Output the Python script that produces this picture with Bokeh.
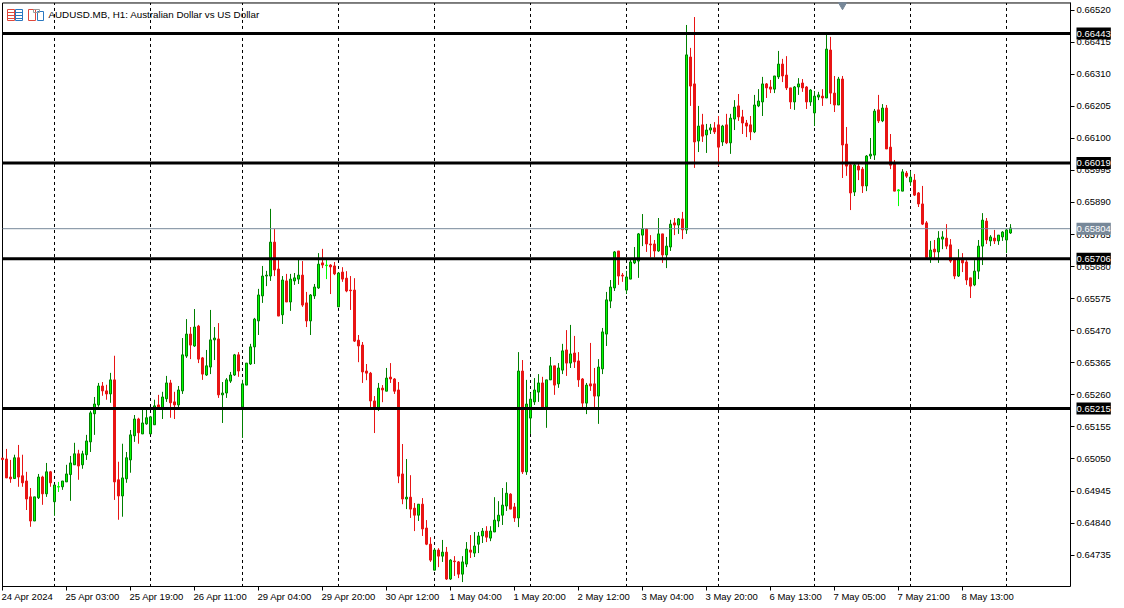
from bokeh.plotting import figure
from bokeh.core.properties import value
from bokeh.models import (ColumnDataSource, FixedTicker, Label, LabelSet, BoxAnnotation,
                          LinearAxis, NumeralTickFormatter, Range1d)
from bokeh.embed import file_html
from bokeh.resources import INLINE

# Prices are in units of 0.00001
high = [
65053,65083,65047,65064,65096,65064,65008,64955,64926,65001,
64995,65037,65011,64965,64975,64978,65031,65060,65103,65080,
65077,65129,65208,65253,65299,65302,65293,65332,65388,65041,
65100,65073,65145,65194,65185,65214,65214,65191,65244,65260,
65270,65322,65309,65270,65289,65446,65508,65482,65541,65489,
65384,65407,65538,65482,65495,65302,65315,65335,65394,65400,
65309,65364,65427,65512,65607,65682,65666,65869,65803,65702,
65649,65656,65656,65659,65702,65698,65597,65590,65623,65724,
65738,65702,65688,65695,65662,65678,65665,65649,65642,65456,
65433,65361,65335,65256,65299,65292,65348,65364,65315,65302,
65099,65050,64997,64906,64902,64922,64850,64794,64758,64758,
64785,64762,64722,64732,64716,64732,64778,64801,64811,64811,
64824,64830,64830,64925,64912,64955,64974,64938,64906,65400,
65374,65309,65266,65315,65328,65319,65309,65384,65355,65364,
65427,65472,65489,65453,65400,65315,65299,65430,65348,65377,
65479,65597,65636,65731,65731,65659,65666,65702,65744,65790,
65852,65806,65783,65767,65839,65787,65777,65833,65839,65839,
65859,66471,66396,66497,66206,66180,66147,66147,66153,66173,
66144,66180,66180,66225,66245,66193,66160,66173,66242,66261,
66301,66281,66291,66304,66386,66360,66369,66265,66271,66297,
66294,66271,66261,66255,66252,66261,66441,66432,66304,66301,
66304,66137,66016,66016,66016,66006,66045,66101,66196,66242,
66212,66209,66114,66029,65934,65999,65993,65993,65983,65924,
65944,65829,65764,65767,65796,65796,65819,65770,65707,65737,
65724,65701,65643,65701,65767,65855,65839,65783,65800,65783,
65796,65803,65819]

low = [
65048,64988,64972,64985,64959,64959,64883,64828,64847,64919,
64900,64926,64959,64864,64942,64949,64975,64913,65031,64982,
65018,65047,65073,65129,65221,65257,65244,65234,64916,64851,
64861,64972,65005,65106,65100,65132,65162,65132,65162,65211,
65181,65237,65185,65181,65211,65263,65381,65377,65417,65364,
65309,65322,65328,65374,65250,65168,65250,65299,65322,65319,
65119,65292,65358,65361,65456,65561,65616,65633,65649,65518,
65492,65564,65535,65620,65623,65548,65482,65456,65574,65607,
65675,65639,65590,65652,65548,65630,65596,65538,65433,65367,
65299,65308,65220,65135,65207,65236,65272,65299,65263,64971,
64902,64886,64857,64814,64847,64798,64768,64713,64686,64696,
64713,64654,64654,64667,64660,64647,64696,64726,64729,64742,
64775,64778,64781,64811,64827,64834,64880,64886,64844,64827,
65001,64998,65132,65227,65237,65216,65152,65309,65260,65283,
65328,65322,65348,65348,65286,65216,65197,65273,65216,65165,
65328,65420,65544,65600,65620,65630,65590,65639,65688,65643,
65747,65728,65710,65710,65728,65692,65675,65731,65783,65787,
65770,65787,66206,66003,66055,66088,66052,66114,66114,66009,
66075,66081,66049,66127,66157,66114,66104,66094,66117,66202,
66173,66232,66248,66248,66294,66284,66258,66196,66193,66242,
66252,66196,66206,66140,66225,66206,66232,66212,66186,66209,
65970,65977,65865,65911,65963,65921,65927,66032,66029,66150,
66153,66065,65999,65927,65878,65927,65970,65944,65911,65875,
65816,65707,65692,65707,65692,65737,65737,65692,65639,65646,
65662,65620,65577,65616,65639,65685,65754,65747,65754,65751,
65764,65724,65787]

body_top = [
65053,65050,64991,65054,65054,64995,64978,64926,64926,64991,
64991,65008,65008,64965,64960,64978,65001,65037,65067,65067,
65067,65109,65201,65230,65289,65289,65273,65309,65309,64982,
64988,65054,65129,65181,65181,65168,65185,65188,65224,65227,
65253,65299,65299,65237,65276,65391,65459,65459,65482,65485,
65381,65355,65440,65446,65443,65266,65309,65325,65391,65391,
65296,65364,65417,65508,65587,65649,65652,65760,65760,65672,
65636,65633,65639,65643,65652,65652,65561,65587,65613,65688,
65692,65685,65685,65682,65659,65662,65642,65603,65603,65439,
65423,65338,65331,65240,65282,65282,65315,65318,65312,65276,
65001,64925,64925,64889,64902,64902,64824,64771,64752,64752,
64745,64745,64719,64716,64713,64713,64755,64752,64765,64798,
64814,64814,64814,64850,64866,64899,64938,64935,64893,65338,
65338,65230,65246,65276,65299,65299,65309,65355,65355,65348,
65404,65407,65394,65397,65371,65312,65292,65296,65296,65351,
65466,65571,65613,65728,65731,65652,65646,65695,65702,65787,
65803,65803,65754,65754,65787,65787,65747,65819,65823,65836,
65836,66373,66366,66278,66140,66144,66127,66134,66134,66144,
66140,66144,66166,66202,66206,66170,66150,66144,66209,66222,
66278,66278,66268,66304,66343,66343,66307,66265,66268,66278,
66281,66268,66258,66238,66242,66238,66392,66389,66248,66294,
66294,66081,66013,66013,66009,65999,66042,66048,66189,66193,
66199,66199,66071,66016,65931,65990,65986,65973,65963,65921,
65885,65823,65734,65737,65773,65777,65773,65751,65705,65705,
65701,65695,65643,65665,65747,65832,65829,65777,65773,65783,
65793,65800,65806]

body_bottom = [
65048,64988,64985,64986,64991,64972,64919,64847,64847,64923,
64936,64936,64972,64910,64958,64959,64975,64999,65031,65027,
65031,65064,65106,65198,65227,65273,65263,65263,64975,64929,
64929,64985,65047,65126,65136,65132,65165,65132,65162,65216,
65216,65247,65234,65227,65227,65273,65387,65423,65420,65377,
65328,65325,65351,65440,65260,65260,65266,65305,65325,65338,
65220,65292,65361,65417,65502,65584,65649,65649,65669,65518,
65522,65564,65564,65633,65639,65554,65502,65502,65584,65610,
65685,65683,65679,65656,65548,65639,65600,65601,65436,65420,
65335,65331,65240,65217,65217,65276,65272,65312,65272,64994,
64919,64919,64886,64866,64866,64821,64771,64719,64686,64732,
64732,64657,64657,64714,64673,64673,64706,64745,64742,64771,
64798,64794,64791,64811,64847,64866,64896,64886,64857,64857,
65008,65008,65184,65237,65269,65219,65220,65309,65292,65296,
65341,65364,65364,65368,65309,65233,65233,65289,65256,65256,
65345,65459,65567,65610,65649,65649,65603,65639,65692,65698,
65783,65754,65751,65731,65731,65718,65718,65744,65816,65816,
65800,65800,66271,66088,66091,66107,66111,66127,66121,66071,
66088,66085,66085,66163,66170,66150,66140,66121,66121,66206,
66219,66265,66261,66261,66301,66304,66265,66219,66219,66268,
66265,66219,66219,66183,66235,66232,66232,66248,66209,66209,
66078,66009,65921,65924,65996,65944,65944,66042,66045,66157,
66157,66065,66012,65927,65928,65927,65976,65957,65914,65885,
65819,65710,65710,65728,65728,65770,65747,65698,65649,65649,
65692,65636,65616,65620,65665,65747,65767,65764,65764,65764,
65777,65767,65790]

# r = bearish, g = bullish, l = doji drawn bright
kinds = ("rrrgrrrrgg" "rgrglggggr" "gggggrrgrr" "ggggrggggr" "ggrrgggrgr"
         "rgggrggggr" "ggggggggrr" "grgggrrggg" "rlrrgrrrrr" "rrrrgrgrrr"
         "rgrrgrrrgr" "grgrrggrgg" "grgggggrrg" "rggggrggrg" "grgrrrgrrg"
         "ggggrrgggg" "grrrgrggrg" "rgrrgrggrr" "grggrrrrgg" "grrggrrrgg"
         "rrgggrgrrg" "rrrgrrgggr" "grrrlgrgrr" "rrgrggrrrg" "rrrgggrgrg" "ggg")

price_ticks = [0.66520, 0.66415, 0.66310, 0.66205, 0.66100, 0.65995, 0.65890, 0.65785, 0.65680,
               0.65575, 0.65470, 0.65365, 0.65260, 0.65155, 0.65050, 0.64945, 0.64840, 0.64735]
time_ticks = [0, 16, 32, 48, 64, 80, 96, 112, 128, 144, 160, 176, 192, 208, 224, 240]
time_labels = ["24 Apr 2024", "25 Apr 03:00", "25 Apr 19:00", "26 Apr 11:00", "29 Apr 04:00",
               "29 Apr 20:00", "30 Apr 12:00", "1 May 04:00", "1 May 20:00", "2 May 12:00",
               "3 May 04:00", "3 May 20:00", "6 May 13:00", "7 May 05:00", "7 May 21:00", "8 May 13:00"]
day_breaks = [13, 37, 60, 84, 108, 132, 156, 179, 203, 227, 251]
levels = [0.66443, 0.66019, 0.65706, 0.65215]
current_price = 0.65804
title_text = "AUDUSD.MB, H1:  Australian Dollar vs US Dollar"

FONT = "Liberation Sans"
RED = "#e81414"
DARK = "#007f00"
FILL = "#00ff00"
LIME = "#00ff00"
SLATE = "#778899"
# chart window bounds, in bar numbers and prices
X_LEFT, X_RIGHT = 0, 267
Y_BOTTOM, Y_TOP = 0.64631, 0.66543

n = len(high)
assert len(low) == n and len(body_top) == n and len(body_bottom) == n and len(kinds) == n
wick = {"r": RED, "g": DARK, "l": LIME}
fill = {"r": RED, "g": FILL, "l": LIME}
src = ColumnDataSource(dict(
    x=list(range(n)),
    high=[v / 1e5 for v in high],
    low=[v / 1e5 for v in low],
    top=[v / 1e5 for v in body_top],
    bottom=[v / 1e5 for v in body_bottom],
    wick=[wick[k] for k in kinds],
    fill=[fill[k] for k in kinds],
))

p = figure(width=1124, height=608, output_backend="svg", toolbar_location=None,
           x_range=Range1d(-0.75, 280.25), y_range=Range1d(0.645638, 0.665544),
           x_axis_location=None, y_axis_location=None,
           min_border_left=0, min_border_top=0, min_border_right=0, min_border_bottom=0,
           background_fill_color="white", border_fill_color="white", tools="")
p.margin = (-1, 0, 0, -1)
p.outline_line_color = None
p.grid.visible = False

ax = LinearAxis(fixed_location=Y_BOTTOM, ticker=FixedTicker(ticks=time_ticks))
ax.major_tick_out = 4
ax.major_tick_in = 0
ax.minor_tick_line_color = None
ax.major_label_text_color = None
ax.axis_line_color = "black"
ax.major_tick_line_color = "black"
ax.bounds = (X_LEFT, X_RIGHT)
p.add_layout(ax, "below")

ay = LinearAxis(fixed_location=X_RIGHT, ticker=FixedTicker(ticks=price_ticks))
ay.formatter = NumeralTickFormatter(format="0.00000")
ay.major_tick_out = 4
ay.major_tick_in = 0
ay.minor_tick_line_color = None
ay.major_label_standoff = 2
ay.major_label_text_font = FONT
ay.major_label_text_font_size = "9.5px"
ay.major_label_text_color = "black"
ay.axis_line_color = "black"
ay.major_tick_line_color = "black"
ay.bounds = (Y_BOTTOM, Y_TOP)
p.add_layout(ay, "right")

# day separators and the window's left and top edges
p.segment(x0=day_breaks, x1=day_breaks, y0=[Y_BOTTOM] * len(day_breaks), y1=[Y_TOP] * len(day_breaks),
          line_color="black", line_width=1, line_dash="3 3")
p.segment(x0=[X_LEFT, X_LEFT], x1=[X_LEFT, X_RIGHT], y0=[Y_BOTTOM, Y_TOP], y1=[Y_TOP, Y_TOP],
          line_color="black", line_width=1)

p.segment(x0="x", x1="x", y0="low", y1="high", line_color="wick", line_width=1, source=src)
p.vbar(x="x", width=0.5, top="top", bottom="bottom", fill_color="fill", line_color="wick",
       line_width=1, source=src)

p.segment(x0=[X_LEFT], x1=[X_RIGHT], y0=[current_price], y1=[current_price],
          line_color=SLATE, line_width=1)
p.segment(x0=[X_LEFT] * len(levels), x1=[X_RIGHT] * len(levels), y0=levels, y1=levels,
          line_color="black", line_width=3)
p.scatter(x=[210], y=[0.66536], marker="inverted_triangle", size=8, color=SLATE)

tsrc = ColumnDataSource(dict(x=time_ticks, y=[Y_BOTTOM - 0.0003] * len(time_ticks), text=time_labels))
p.add_layout(LabelSet(x="x", y="y", text="text", source=tsrc, x_offset=-1,
                      text_font_size="9.5px", text_font=value(FONT), text_color="black",
                      text_align="left", text_baseline="middle"))

for lv, col in [(v, "black") for v in levels] + [(current_price, SLATE)]:
    p.add_layout(Label(x=1077, x_units="screen", y=lv, y_units="data", text=f"{lv:.5f}",
                       text_color="white", text_font=FONT, text_font_size="9.5px",
                       text_align="left", text_baseline="middle",
                       background_fill_color=col, padding=(0, 3)))

p.add_layout(Label(x=49, x_units="screen", y=593, y_units="screen", text=title_text,
                   text_color="black", text_font=FONT, text_font_size="9.8px",
                   text_align="left", text_baseline="middle"))

# chart-window icons: left, right, top, bottom in pixels from the window's top-left
icon_parts = [(8, 15, 9, 20, "#e0483c"), (8, 15, 12, 12, "#e0483c"), (8, 15, 15, 15, "#e0483c"), (8, 15, 18, 18, "#e0483c"),
              (16, 23, 9, 20, "#2a78c0"), (16, 23, 12, 12, "#2a78c0"), (16, 23, 15, 15, "#2a78c0"), (16, 23, 18, 18, "#2a78c0"),
              (29, 36, 9, 20, "#e0483c"), (38, 44, 11, 20, "#2a78c0"), (34, 40, 9, 12, "#9a9a9a")]
for l, r, t, b, col in icon_parts:
    p.add_layout(BoxAnnotation(left=l, right=r, top=607 - t, bottom=607 - b,
                               left_units="screen", right_units="screen",
                               top_units="screen", bottom_units="screen",
                               fill_color=None, line_color=col, line_width=1, line_alpha=1))

open("out.html", "w").write(file_html(p, INLINE))
